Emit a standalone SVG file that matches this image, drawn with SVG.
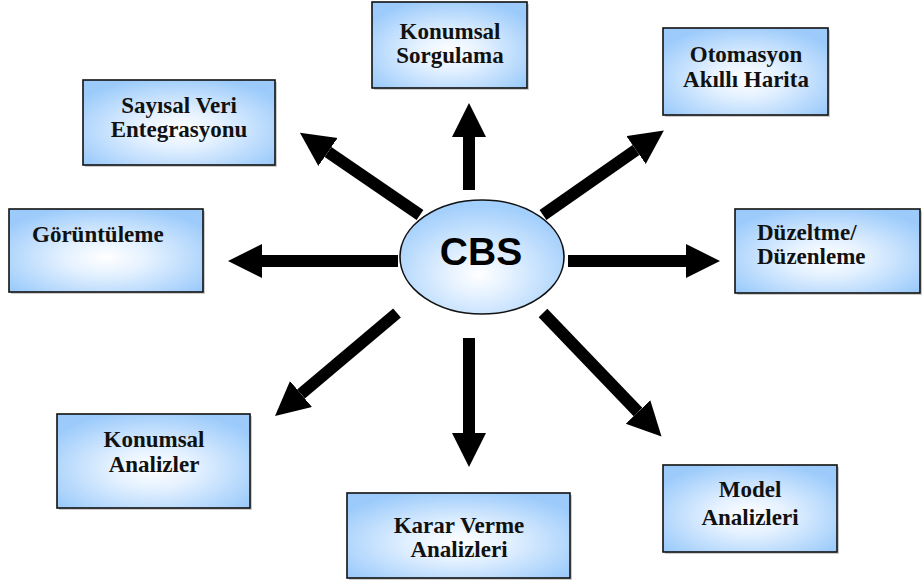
<svg xmlns="http://www.w3.org/2000/svg" width="923" height="581" viewBox="0 0 923 581">
  <defs>
    <radialGradient id="boxFill" cx="50%" cy="58%" r="62%">
      <stop offset="0" stop-color="#ffffff"/>
      <stop offset="0.35" stop-color="#e4f1ff"/>
      <stop offset="1" stop-color="#9ccbfb"/>
    </radialGradient>
    <radialGradient id="hubFill" cx="48%" cy="65%" r="60%">
      <stop offset="0" stop-color="#ffffff"/>
      <stop offset="0.3" stop-color="#e6f2ff"/>
      <stop offset="1" stop-color="#a3cffc"/>
    </radialGradient>
    <marker id="head" markerUnits="userSpaceOnUse" markerWidth="36" markerHeight="36" refX="0" refY="17" orient="auto">
      <path d="M0,0 L34,17 L0,34 Z" fill="#000"/>
    </marker>
  </defs>
  <style>
    .box { fill: url(#boxFill); stroke: #111; stroke-width: 1.6; }
    .shadow { fill: #9a9a9a; opacity: 0.5; }
    .label { font-family: "Liberation Serif", "Times New Roman", serif; font-weight: bold; font-size: 23px; fill: #111; }
    .mid { text-anchor: middle; }
    .arrow { stroke: #000; stroke-width: 12; fill: none; marker-end: url(#head); }
    .hub { fill: url(#hubFill); stroke: #111; stroke-width: 1.6; }
    .hubText { font-family: "Liberation Sans", Arial, sans-serif; font-weight: bold; font-size: 39px; fill: #000; text-anchor: middle; }
  </style>

  <rect width="923" height="581" fill="#ffffff"/>

  <g id="connectors">
    <line class="arrow" x1="469" y1="190" x2="469" y2="137"/>
    <line class="arrow" x1="469" y1="338" x2="469" y2="433"/>
    <line class="arrow" x1="398" y1="261" x2="262" y2="261"/>
    <line class="arrow" x1="568" y1="261" x2="686" y2="261"/>
    <line class="arrow" x1="420" y1="215" x2="328" y2="152"/>
    <line class="arrow" x1="543" y1="215" x2="636" y2="150"/>
    <line class="arrow" x1="397" y1="313" x2="301" y2="394"/>
    <line class="arrow" x1="543" y1="313" x2="638" y2="412"/>
  </g>

  <g id="hub">
    <ellipse class="hub" cx="482" cy="257" rx="82" ry="57"/>
    <text class="hubText" x="481" y="265">CBS</text>
  </g>

  <g id="konumsal-sorgulama">
    <rect class="shadow" x="374" y="4" width="155" height="86"/>
    <rect class="box" x="372" y="2" width="155" height="86"/>
    <text class="label mid" x="450" y="39">Konumsal</text>
    <text class="label mid" x="450" y="63">Sorgulama</text>
  </g>

  <g id="otomasyon">
    <rect class="shadow" x="665" y="30" width="165" height="87"/>
    <rect class="box" x="663" y="28" width="165" height="87"/>
    <text class="label mid" x="746" y="62">Otomasyon</text>
    <text class="label mid" x="746" y="87">Akıllı Harita</text>
  </g>

  <g id="sayisal-veri">
    <rect class="shadow" x="85" y="82" width="192" height="85"/>
    <rect class="box" x="83" y="80" width="192" height="85"/>
    <text class="label mid" x="179" y="113">Sayısal Veri</text>
    <text class="label mid" x="179" y="137">Entegrasyonu</text>
  </g>

  <g id="goruntuleme">
    <rect class="shadow" x="11" y="211" width="194" height="83"/>
    <rect class="box" x="9" y="209" width="194" height="83"/>
    <text class="label" x="32" y="242">Görüntüleme</text>
  </g>

  <g id="duzeltme">
    <rect class="shadow" x="737" y="211" width="185" height="84"/>
    <rect class="box" x="735" y="209" width="185" height="84"/>
    <text class="label" x="757" y="240">Düzeltme/</text>
    <text class="label" x="757" y="264">Düzenleme</text>
  </g>

  <g id="konumsal-analizler">
    <rect class="shadow" x="59" y="416" width="193" height="94"/>
    <rect class="box" x="57" y="414" width="193" height="94"/>
    <text class="label mid" x="154" y="447">Konumsal</text>
    <text class="label mid" x="154" y="472">Analizler</text>
  </g>

  <g id="karar-verme">
    <rect class="shadow" x="349" y="495" width="223" height="85"/>
    <rect class="box" x="347" y="493" width="223" height="85"/>
    <text class="label mid" x="459" y="533">Karar Verme</text>
    <text class="label mid" x="459" y="557">Analizleri</text>
  </g>

  <g id="model-analizleri">
    <rect class="shadow" x="665" y="467" width="174" height="87"/>
    <rect class="box" x="663" y="465" width="174" height="87"/>
    <text class="label mid" x="750" y="497">Model</text>
    <text class="label mid" x="750" y="525">Analizleri</text>
  </g>
</svg>
